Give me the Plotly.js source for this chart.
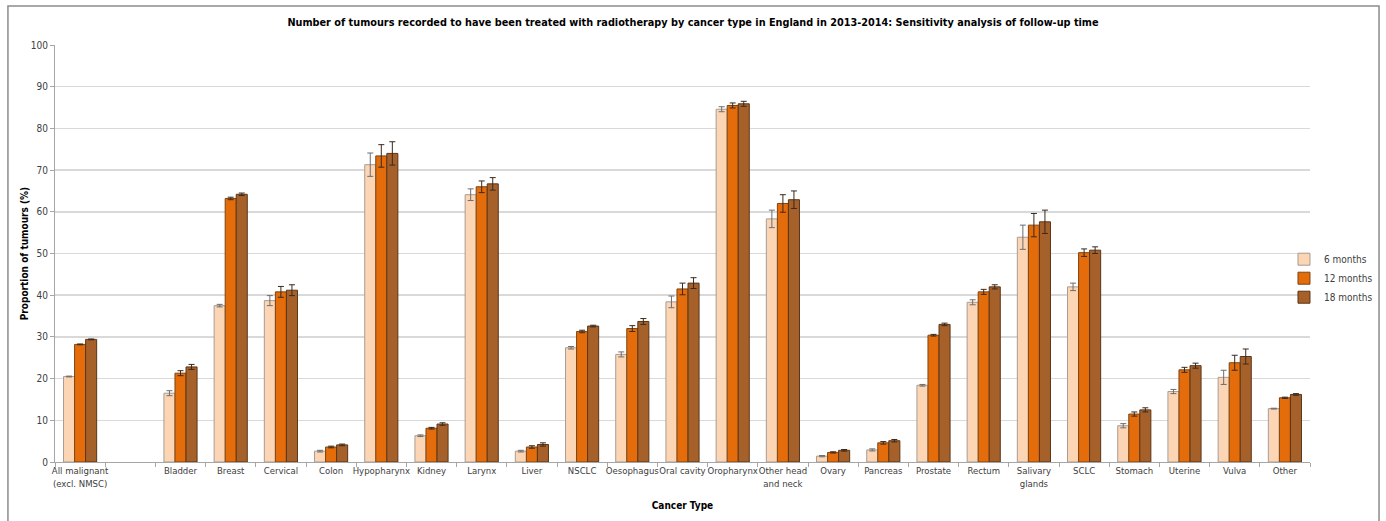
<!DOCTYPE html>
<html>
<head>
<meta charset="utf-8">
<script src="https://cdn.plot.ly/plotly-3.0.1.min.js"></script>
<style>
html,body{margin:0;padding:0;background:#fff;}
#chart{width:1386px;height:521px;}
</style>
</head>
<body>
<div id="chart"></div>
<script>
const categories = ["All malignant<br>(excl. NMSC)", " ", "Bladder", "Breast", "Cervical", "Colon", "Hypopharynx", "Kidney", "Larynx", "Liver", "NSCLC", "Oesophagus", "Oral cavity", "Oropharynx", "Other head<br>and neck", "Ovary", "Pancreas", "Prostate", "Rectum", "Salivary<br>glands", "SCLC", "Stomach", "Uterine", "Vulva", "Other"];

const series = ["6 months", "12 months", "18 months"];

const values6  = [20.5, null, 16.5, 37.5, 38.7, 2.6, 71.3, 6.3, 64.1, 2.6, 27.4, 25.8, 38.4, 84.6, 58.3, 1.4, 2.9, 18.4, 38.3, 53.9, 42.0, 8.7, 16.9, 20.3, 12.8];
const values12 = [28.2, null, 21.3, 63.2, 40.8, 3.6, 73.4, 8.1, 66.0, 3.6, 31.3, 32.0, 41.5, 85.5, 62.0, 2.3, 4.6, 30.4, 40.8, 56.8, 50.2, 11.5, 22.1, 23.8, 15.4];
const values18 = [29.4, null, 22.8, 64.2, 41.2, 4.1, 74.0, 9.1, 66.7, 4.2, 32.6, 33.7, 42.9, 85.9, 62.9, 2.8, 5.1, 33.0, 42.0, 57.6, 50.8, 12.5, 23.1, 25.3, 16.2];

const err6  = [0.1, null, 0.6, 0.3, 1.2, 0.2, 2.8, 0.2, 1.4, 0.2, 0.3, 0.6, 1.4, 0.6, 2.1, 0.15, 0.25, 0.2, 0.6, 2.9, 0.9, 0.5, 0.5, 1.7, 0.1];
const err12 = [0.1, null, 0.6, 0.3, 1.3, 0.2, 2.7, 0.2, 1.4, 0.3, 0.3, 0.7, 1.4, 0.6, 2.1, 0.15, 0.3, 0.2, 0.6, 2.8, 0.9, 0.5, 0.6, 1.8, 0.15];
const err18 = [0.1, null, 0.6, 0.3, 1.3, 0.2, 2.8, 0.3, 1.5, 0.4, 0.2, 0.7, 1.3, 0.6, 2.1, 0.2, 0.3, 0.3, 0.5, 2.8, 0.8, 0.5, 0.6, 1.8, 0.2];

const fillColors = ["#FCD5B4", "#E46C0A", "#A6612B"];
const lineColors = ["#A89C94", "#7A4512", "#5A3517"];
const errColors  = ["#6E6E6E", "#3A2A1E", "#3A2A1E"];

const FONT = "'Liberation Sans Narrow', 'DejaVu Sans Condensed', 'Liberation Sans', sans-serif";

const allValues = [values6, values12, values18];
const allErrs = [err6, err12, err18];

const traces = series.map((name, i) => ({
  type: "bar",
  name: name,
  x: categories,
  y: allValues[i],
  marker: {color: fillColors[i], line: {color: lineColors[i], width: 1}},
  error_y: {type: "data", array: allErrs[i], visible: true, color: errColors[i], thickness: 1, width: 3}
}));

const layout = {
  width: 1386,
  height: 521,
  margin: {l: 55, r: 76, t: 45, b: 59, autoexpand: false},
  paper_bgcolor: "#ffffff",
  plot_bgcolor: "#ffffff",
  barmode: "group",
  bargap: 0.34,
  bargroupgap: 0,
  font: {family: FONT, size: 10, color: "#404040"},
  title: {
    text: "<b>Number of tumours recorded to have been treated with radiotherapy by cancer type in England in 2013-2014: Sensitivity analysis of follow-up time</b>",
    font: {family: FONT, size: 10.8, color: "#000000"},
    x: 0.5, xref: "container", xanchor: "center",
    y: 0.958, yanchor: "middle"
  },
  xaxis: {
    type: "category",
    range: [-0.5, 24.5],
    tickson: "boundaries",
    ticks: "outside",
    ticklen: 4,
    tickcolor: "#a6a6a6",
    tickangle: 0,
    showline: true,
    linecolor: "#a6a6a6",
    linewidth: 1,
    showgrid: false,
    automargin: false,
    tickfont: {family: FONT, size: 9.5, color: "#404040"},
    title: {text: "<b>Cancer Type</b>", font: {family: FONT, size: 10, color: "#000000"}, standoff: 14},
    fixedrange: true
  },
  yaxis: {
    range: [0, 100],
    dtick: 10,
    ticks: "outside",
    ticklen: 4,
    tickcolor: "#a6a6a6",
    showline: true,
    linecolor: "#a6a6a6",
    linewidth: 1,
    showgrid: true,
    gridcolor: "#d9d9d9",
    gridwidth: 1.5,
    zeroline: false,
    automargin: false,
    tickfont: {family: FONT, size: 10, color: "#404040"},
    title: {text: "<b>Proportion of tumours (%)</b>", font: {family: FONT, size: 10, color: "#000000"}, standoff: 0},
    fixedrange: true
  },
  legend: {
    xref: "container", yref: "container",
    x: 0.9264, xanchor: "left",
    y: 0.466, yanchor: "middle",
    font: {family: FONT, size: 10, color: "#404040"},
    itemwidth: 30,
    tracegroupgap: 0,
    bgcolor: "rgba(0,0,0,0)"
  },
  shapes: [{
    type: "rect", xref: "paper", yref: "paper",
    x0: -0.0375, x1: 1.055, y0: -0.17, y1: 1.0935,
    line: {color: "#8c8c8c", width: 1.5},
    fillcolor: "rgba(0,0,0,0)",
    layer: "below"
  }],
  showlegend: true
};

Plotly.newPlot("chart", traces, layout, {displayModeBar: false, staticPlot: true});
</script>
</body>
</html>
